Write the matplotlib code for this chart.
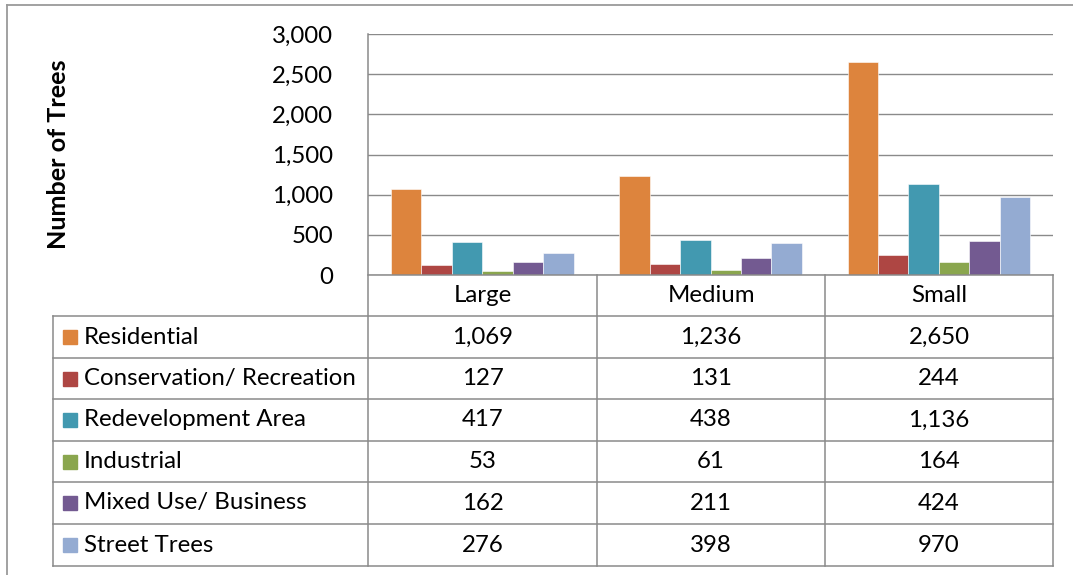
import matplotlib
matplotlib.use("Agg")
import matplotlib.pyplot as plt
from matplotlib.lines import Line2D
from matplotlib.patches import Rectangle

categories = ["Large", "Medium", "Small"]
series_names = ["Residential", "Conservation/ Recreation", "Redevelopment Area",
                "Industrial", "Mixed Use/ Business", "Street Trees"]
residential = [1069, 1236, 2650]
conservation = [127, 131, 244]
redevelopment = [417, 438, 1136]
industrial = [53, 61, 164]
mixed_use = [162, 211, 424]
street_trees = [276, 398, 970]
series_values = [residential, conservation, redevelopment, industrial, mixed_use, street_trees]
colors = ["#DD843D", "#AE4643", "#4299B0", "#8AA64E", "#735A91", "#94ABD2"]
y_ticks = [0, 500, 1000, 1500, 2000, 2500, 3000]

W, H = 1073, 575
plt.rcParams['font.family'] = ['Lato', 'DejaVu Sans']
FS = 17.3
GRID = "#8A8A8A"
fig = plt.figure(figsize=(W / 100, H / 100), dpi=100)

def fx(x):
    return x / W

def fy(y):
    return 1 - y / H

L, R, T, B = 368, 1053, 34, 275
ax = fig.add_axes([fx(L), fy(B), fx(R) - fx(L), fy(T) - fy(B)])
n = len(series_names)
bw = 1 / (n + 1.5)
for i, (vals, c) in enumerate(zip(series_values, colors)):
    xs = [g + (i - (n - 1) / 2) * bw for g in range(len(categories))]
    ax.bar(xs, vals, width=bw, color=c, edgecolor='white', linewidth=0.4, zorder=3)
ax.set_xlim(-0.5, len(categories) - 0.5)
ax.set_ylim(0, 3000)
ax.set_yticks(y_ticks)
ax.set_yticklabels([f"{v:,}" for v in y_ticks], fontsize=FS)
ax.tick_params(axis='y', length=0, pad=25)
ax.set_xticks([])
ax.grid(axis='y', color=GRID, linewidth=1.0, zorder=0)
for s in ['top', 'right', 'bottom', 'left']:
    ax.spines[s].set_visible(False)
ax.set_ylabel("Number of Trees", fontsize=18.2, fontweight='bold')
ax.yaxis.label.set_va('center')
ax.yaxis.set_label_coords((58 - L) / (R - L), 0.5)

def hline(y, x0, x1, color=GRID, lw=1.1):
    fig.add_artist(Line2D([fx(x0), fx(x1)], [fy(y), fy(y)], color=color, lw=lw))

def vline(x, y0, y1, color=GRID, lw=1.1):
    fig.add_artist(Line2D([fx(x), fx(x)], [fy(y0), fy(y1)], color=color, lw=lw))

# outer border
hline(5, 7, W, color="#9A9A9A", lw=1.3)
vline(7, 5, H, color="#9A9A9A", lw=1.3)

# table geometry
col_x = [L, 597, 825, R]
row_y = [275, 316, 358, 399, 441, 482, 524, 566]
hline(row_y[0], L, R)
for y in row_y[1:]:
    hline(y, 53, R)
vline(L, T, row_y[-1])
vline(53, row_y[1], row_y[-1])
for x in col_x[1:]:
    vline(x, row_y[0], row_y[-1])

for j, cat in enumerate(categories):
    cx = (col_x[j] + col_x[j + 1]) / 2
    fig.text(fx(cx), fy((row_y[0] + row_y[1]) / 2), cat, ha='center', va='center', fontsize=FS)

for i, name in enumerate(series_names):
    cy = (row_y[i + 1] + row_y[i + 2]) / 2
    fig.add_artist(Rectangle((fx(63), fy(cy + 7)), fx(14), 14 / H, color=colors[i]))
    fig.text(fx(84), fy(cy), name, ha='left', va='center', fontsize=FS)
    for j in range(len(categories)):
        cx = (col_x[j] + col_x[j + 1]) / 2
        fig.text(fx(cx), fy(cy), f"{series_values[i][j]:,}", ha='center', va='center', fontsize=FS)

fig.savefig("out.png", dpi=100)
